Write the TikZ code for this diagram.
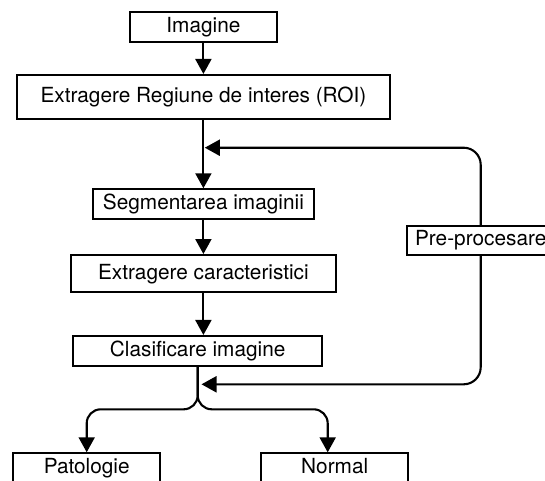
\documentclass[tikz,border=0pt]{standalone}
\usepackage{fontspec}
\setmainfont{TeX Gyre Heros}
\usetikzlibrary{arrows.meta}
\begin{document}
\begin{tikzpicture}[x=1pt,y=-1pt,
  box/.style={draw=black, line width=2.1pt, fill=white, inner sep=0pt,
    font=\fontsize{20.8}{24}\selectfont, text height=15pt, text depth=4.3pt, align=center},
  arr/.style={line width=2.1pt, -{Triangle[length=15pt,width=16pt]}}]
\useasboundingbox (0,0) rectangle (545,480);
\clip (0,0) rectangle (545,480);
\fill[white] (0,0) rectangle (545,480);
\node[box, minimum width=147.7pt, minimum height=30pt] (img) at (203.4,26.7) {Imagine};
\node[box, minimum width=373.3pt, minimum height=44pt] (roi) at (203.4,97) {Extragere Regiune de interes (ROI)};
\node[box, minimum width=220.4pt, minimum height=30pt] (seg) at (203.4,204.3) {Segmentarea imaginii};
\node[box, minimum width=264.3pt, minimum height=37.3pt] (ext) at (203.4,273.7) {Extragere caracteristici};
\node[box, minimum width=248.7pt, minimum height=30pt] (cls) at (197.7,351) {Clasificare imagine};
\node[box, minimum width=148pt, minimum height=29pt] (pre) at (480.7,240.5) {Pre-procesare};
\node[box, minimum width=146.7pt, minimum height=30pt] (pat) at (86.7,468.3) {Patologie};
\node[box, minimum width=146.7pt, minimum height=30pt] (nor) at (334.7,468.3) {Normal};
\coordinate (fbtop) at (204.8,147.7);
\coordinate (fbbot) at (201.5,384.3);
\coordinate (split) at (197.7,409.3);
\coordinate (norin) at (327.7,452.3);
\draw[arr] (img.south) -- (roi.north);
\draw[arr] (roi.south) -- (seg.north);
\draw[arr] (seg.south) -- (ext.north);
\draw[arr] (ext.south) -- (ext.south |- cls.north);
\draw[arr, rounded corners=17pt] (pre.north) |- (fbtop);
\draw[arr, rounded corners=17pt] (pre.south) |- (fbbot);
\draw[arr, rounded corners=14pt] (cls.south) -- (split) -| (pat.north);
\draw[arr, rounded corners=14pt] (cls.south) -- (split) -| (norin);
\end{tikzpicture}
\end{document}
